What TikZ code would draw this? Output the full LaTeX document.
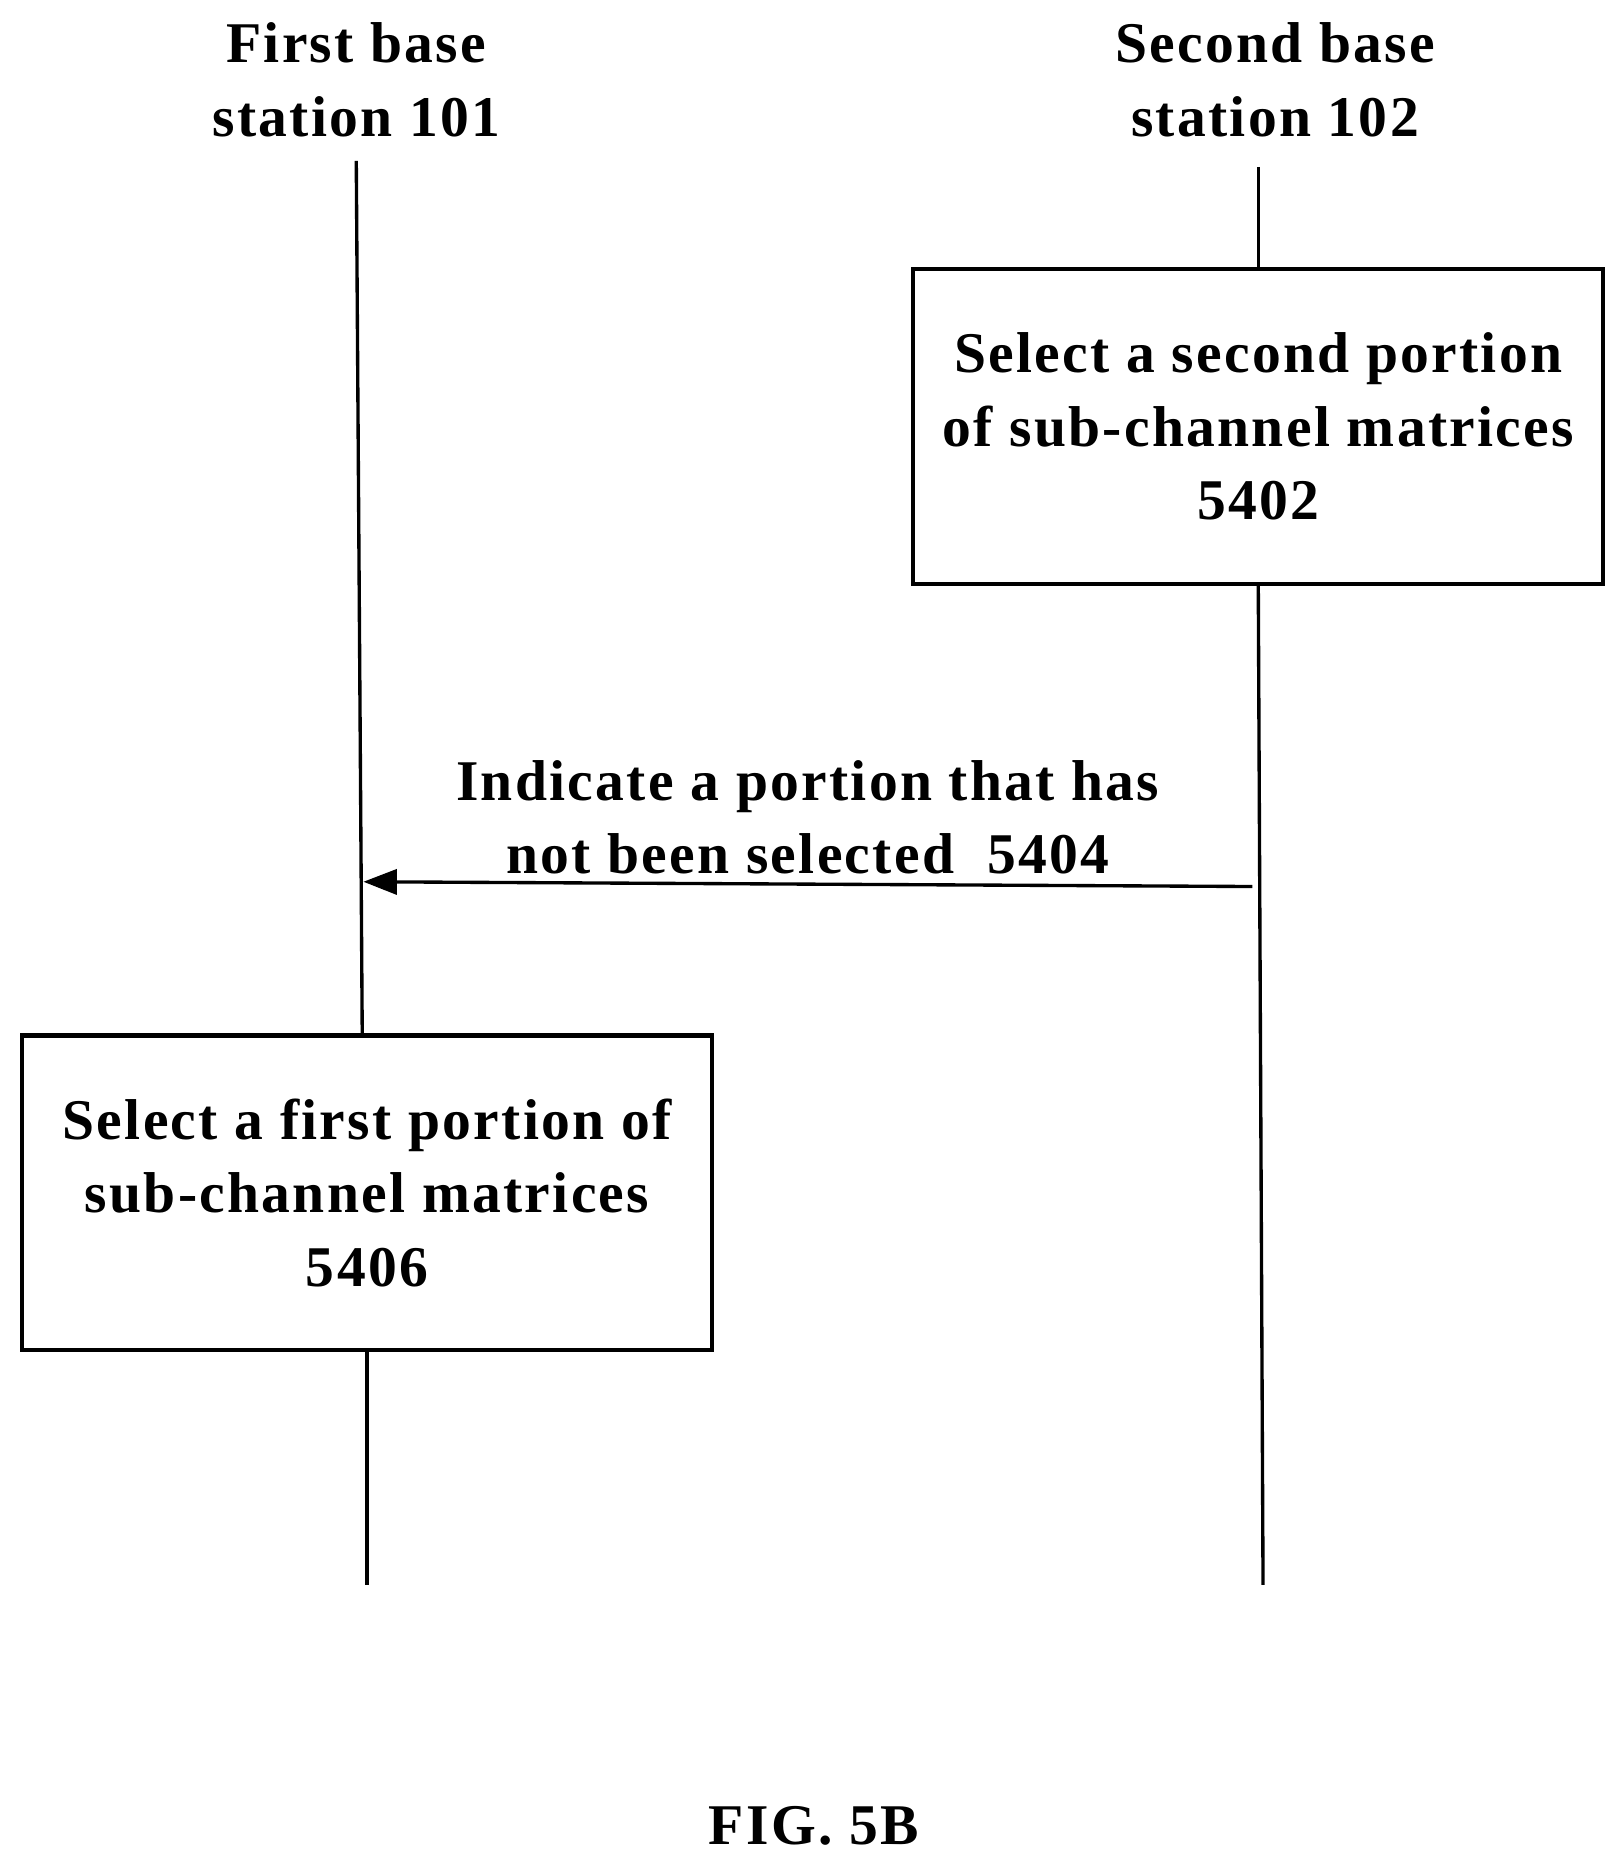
\documentclass[tikz,border=0pt]{standalone}
\usepackage{fontspec}
\setmainfont{Liberation Serif}[LetterSpace=4]
\usetikzlibrary{arrows.meta}
\begin{document}
\begin{tikzpicture}[x=0.02cm,y=-0.02cm,
  txt/.style={font=\fontsize{27.5}{35}\selectfont\bfseries,align=center,inner sep=0},
  box/.style={draw,line width=2pt,minimum width=579*0.02cm,minimum height=264*0.02cm,txt},
  life/.style={line width=1.6pt}]
\useasboundingbox (0,0) rectangle (1360,1561);
\node[txt] (h1) at (299,67) {First base\\station 101};
\node[txt] (h2) at (1070,67) {Second base\\station 102};
\node[box] (b2) at (1056,358) {Select a second portion\\of sub-channel matrices\\5402};
\node[box] (b1) at (308,1001) {Select a first portion of\\sub-channel matrices\\5406};
\coordinate (t1) at (299,135); \coordinate (e1) at (308,1330);
\coordinate (t2) at (1056,140); \coordinate (e2) at (1060,1330);
\coordinate (a2) at (1051,744); \coordinate (a1) at (305,740);
\draw[life] (t1) -- (b1.north -| 304,0);
\draw[life] (b1.south) -- (e1);
\draw[life] (t2) -- (b2.north);
\draw[life] (b2.south) -- (e2);
\draw[line width=1.6pt,-{Triangle[length=16pt,width=12pt]}] (a2) -- (a1);
\node[txt] (lbl) at (678,686) {Indicate a portion that has\\not been selected\ \ 5404};
\node[txt] (fig) at (683,1532) {FIG. 5B};
\end{tikzpicture}
\end{document}
